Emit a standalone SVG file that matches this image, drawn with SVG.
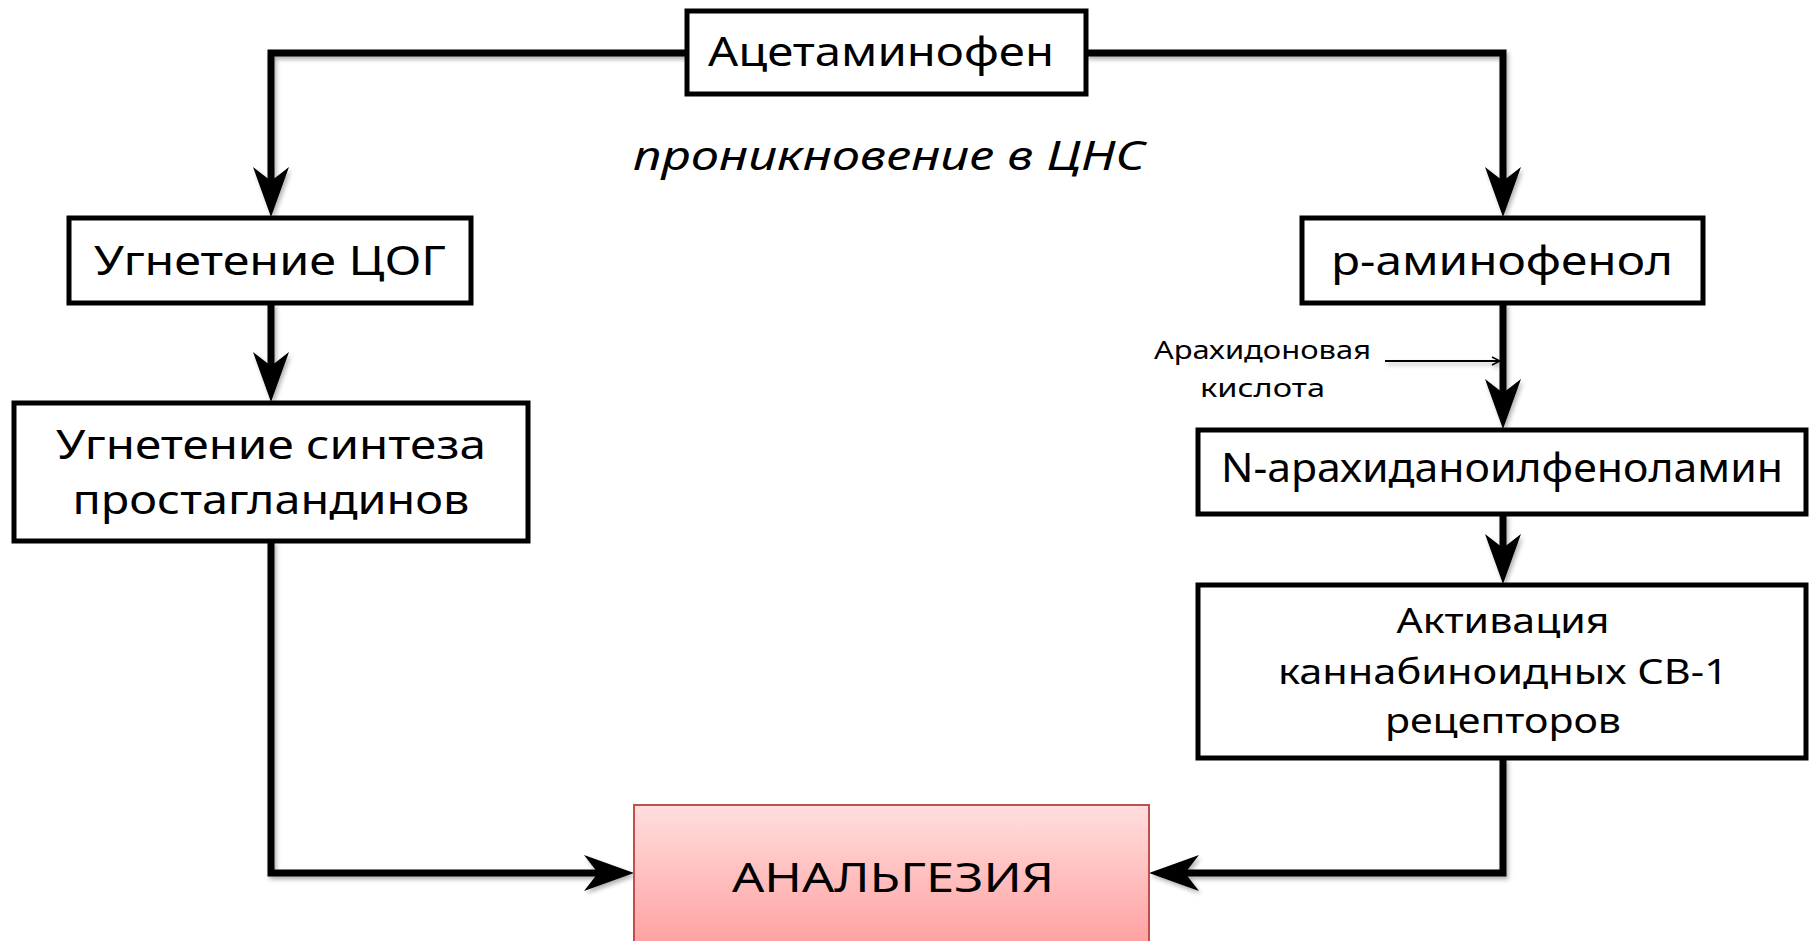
<svg xmlns="http://www.w3.org/2000/svg" width="1810" height="941" viewBox="0 0 1810 941">
  <style>
    .box { fill: #ffffff; stroke: #000000; stroke-width: 5; }
    .t { font-family: "Noto Sans", "DejaVu Sans", sans-serif; font-size: 40px; fill: #000000; text-anchor: middle; }
    .m { font-size: 35px; }
    .s { font-family: "Noto Sans", "DejaVu Sans", sans-serif; font-size: 26px; fill: #000000; }
    .conn { fill: none; stroke: #000000; stroke-width: 7; stroke-linejoin: miter; }
  </style>
  <defs>
    <marker id="big" viewBox="0 0 50 36" refX="14" refY="18" markerWidth="50" markerHeight="36" markerUnits="userSpaceOnUse" orient="auto">
      <path d="M0,0 L50,18 L0,36 L14,18 Z" fill="#000000"/>
    </marker>
    <marker id="small" viewBox="0 0 10 10" refX="9" refY="5" markerWidth="10" markerHeight="10" markerUnits="userSpaceOnUse" orient="auto">
      <path d="M1,1 L9,5 L1,9" fill="none" stroke="#000000" stroke-width="1.5"/>
    </marker>
    <linearGradient id="pink" x1="0" y1="0" x2="0" y2="1">
      <stop offset="0" stop-color="#FFDEDE"/>
      <stop offset="1" stop-color="#FFA0A0"/>
    </linearGradient>
    <filter id="sh" x="-10%" y="-10%" width="120%" height="120%">
      <feDropShadow dx="2" dy="3" stdDeviation="2" flood-color="#000000" flood-opacity="0.3"/>
    </filter>
  </defs>

  <g id="connectors" filter="url(#sh)">
    <path class="conn" d="M687,53 H271 V181" marker-end="url(#big)"/>
    <path class="conn" d="M271,303 V366" marker-end="url(#big)"/>
    <path class="conn" d="M271,541 V873 H598" marker-end="url(#big)"/>
    <path class="conn" d="M1086,53 H1503 V181" marker-end="url(#big)"/>
    <path class="conn" d="M1503,303 V393" marker-end="url(#big)"/>
    <path class="conn" d="M1503,514 V548" marker-end="url(#big)"/>
    <path class="conn" d="M1503,758 V873 H1185" marker-end="url(#big)"/>
    <path d="M1385,361 H1500" fill="none" stroke="#000000" stroke-width="2" marker-end="url(#small)"/>
  </g>

  <g id="acetaminophen">
    <rect class="box" x="687" y="11" width="399" height="83"/>
    <text class="t" x="881" y="66" textLength="346" lengthAdjust="spacingAndGlyphs">Ацетаминофен</text>
  </g>

  <g id="cns-label">
    <text class="t" x="889" y="170" font-style="italic" textLength="512" lengthAdjust="spacingAndGlyphs">проникновение в ЦНС</text>
  </g>

  <g id="cox">
    <rect class="box" x="69" y="218" width="402" height="85"/>
    <text class="t" x="270" y="275" textLength="352" lengthAdjust="spacingAndGlyphs">Угнетение ЦОГ</text>
  </g>

  <g id="prostaglandins">
    <rect class="box" x="14" y="403" width="514" height="138"/>
    <text class="t" x="271" y="459" textLength="430" lengthAdjust="spacingAndGlyphs">Угнетение синтеза</text>
    <text class="t" x="271" y="514" textLength="397" lengthAdjust="spacingAndGlyphs">простагландинов</text>
  </g>

  <g id="aminophenol">
    <rect class="box" x="1302" y="218" width="401" height="85"/>
    <text class="t" x="1502" y="275" textLength="342" lengthAdjust="spacingAndGlyphs">р-аминофенол</text>
  </g>

  <g id="arachidonic-label">
    <text class="s" x="1154" y="359" textLength="217" lengthAdjust="spacingAndGlyphs">Арахидоновая</text>
    <text class="s" x="1200" y="397" textLength="125" lengthAdjust="spacingAndGlyphs">кислота</text>
  </g>

  <g id="n-arachidonoyl">
    <rect class="box" x="1198" y="430" width="608" height="84"/>
    <text class="t" x="1502" y="482" textLength="562" lengthAdjust="spacingAndGlyphs">N-арахиданоилфеноламин</text>
  </g>

  <g id="cb1">
    <rect class="box" x="1198" y="585" width="608" height="173"/>
    <text class="t m" x="1503" y="633" textLength="213" lengthAdjust="spacingAndGlyphs">Активация</text>
    <text class="t m" x="1503" y="684" textLength="450" lengthAdjust="spacingAndGlyphs">каннабиноидных СВ-1</text>
    <text class="t m" x="1503" y="733" textLength="236" lengthAdjust="spacingAndGlyphs">рецепторов</text>
  </g>

  <g id="analgesia">
    <rect x="634" y="805" width="515" height="142" fill="url(#pink)" stroke="#C0504D" stroke-width="2"/>
    <text class="t" x="893" y="892" font-size="50" textLength="322" lengthAdjust="spacingAndGlyphs">АНАЛЬГЕЗИЯ</text>
  </g>
</svg>
